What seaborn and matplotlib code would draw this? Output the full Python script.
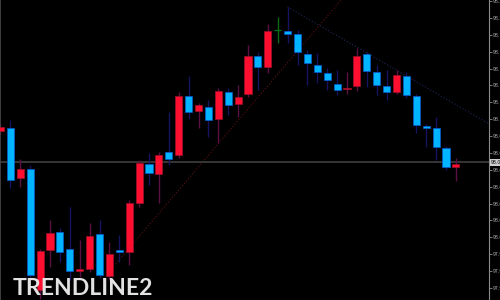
import numpy as np
import pandas as pd
import matplotlib
matplotlib.use("Agg")
import matplotlib.pyplot as plt
import matplotlib.transforms as mtrans
import seaborn as sns

# ---- data (prices) ----
opens = [98.0995, 98.1022, 98.0577, 98.0657, 97.9582, 97.9938, 98.0098, 97.9947, 97.9751, 97.9769,
         98.0080, 97.9707, 97.9938, 97.9920, 98.0355, 98.0702, 98.0613, 98.0809, 98.0782, 98.1306,
         98.1173, 98.1208, 98.1102, 98.1342, 98.1235, 98.1324, 98.1662, 98.1564, 98.1893, 98.1884,
         98.1857, 98.1679, 98.1582, 98.1511, 98.1413, 98.1368, 98.1395, 98.1679, 98.1519, 98.1395,
         98.1342, 98.1484, 98.1306, 98.1040, 98.1022, 98.0844, 98.0675]
highs = [98.1057, 98.1093, 98.0746, 98.0693, 97.9947, 98.0204, 98.0133, 98.0320, 98.0027, 98.0178,
         98.0204, 98.0009, 98.0071, 98.0382, 98.0737, 98.0800, 98.0809, 98.1164, 98.1342, 98.1484,
         98.1244, 98.1271, 98.1377, 98.1377, 98.1404, 98.1759, 98.1697, 98.1946, 98.2008, 98.2097,
         98.1893, 98.1715, 98.1688, 98.1555, 98.1537, 98.1519, 98.1733, 98.1697, 98.1582, 98.1537,
         98.1537, 98.1519, 98.1324, 98.1057, 98.1120, 98.0862, 98.0755]
lows = [98.0969, 98.0489, 98.0497, 97.9689, 97.9502, 97.9787, 97.9831, 97.9671, 97.9698, 97.9742,
        97.9689, 97.9671, 97.9831, 97.9804, 98.0320, 98.0515, 98.0355, 98.0693, 98.0755, 98.1102,
        98.1022, 98.0942, 98.0889, 98.1137, 98.1120, 98.1297, 98.1359, 98.1511, 98.1777, 98.1777,
        98.1582, 98.1404, 98.1422, 98.1359, 98.1315, 98.1324, 98.1351, 98.1386, 98.1315, 98.1271,
        98.1324, 98.1288, 98.0977, 98.0853, 98.0737, 98.0649, 98.0551]
closes = [98.1031, 98.0560, 98.0657, 97.9716, 97.9929, 98.0089, 97.9920, 97.9751, 97.9769, 98.0062,
          97.9716, 97.9902, 97.9920, 98.0355, 98.0711, 98.0622, 98.0782, 98.0746, 98.1306, 98.1164,
          98.1226, 98.1093, 98.1351, 98.1226, 98.1297, 98.1662, 98.1564, 98.1884, 98.1893, 98.1857,
          98.1697, 98.1599, 98.1519, 98.1448, 98.1359, 98.1377, 98.1662, 98.1528, 98.1404, 98.1342,
          98.1493, 98.1315, 98.1049, 98.1022, 98.0853, 98.0675, 98.0702]

up_trend_x = [11, 35]
up_trend_y = [97.9749, 98.2221]
down_trend_x = [29, 49.5]
down_trend_y = [98.2097, 98.1050]
hline_price = 98.0715
hline_label = "98.071"
tick_prices = [round(97.960 + 0.015 * k, 3) for k in range(18)]
title_text = "TRENDLINE2"

df = pd.DataFrame({"open": opens, "high": highs, "low": lows, "close": closes})
df["idx"] = np.arange(len(df))

sns.set_theme(style="dark")
plt.rcParams["font.family"] = ["DejaVu Sans"]

fig = plt.figure(figsize=(5, 3), dpi=100, facecolor="black")
ax = fig.add_axes([0, 0, 489 / 500, 1])
ax.set_facecolor("black")

RED, RED_EDGE, RED_WICK = "#ff0f2f", "#a0102a", "#5a0f45"
BLUE, BLUE_EDGE, BLUE_WICK = "#00b4ff", "#0a5ad0", "#141460"
GREEN = "#0b6b16"

# trend lines (seaborn)
sns.lineplot(x=up_trend_x, y=up_trend_y, ax=ax, color="#651010", lw=0.7,
             linestyle=(0, (1.2, 2.0)), zorder=1)
sns.lineplot(x=down_trend_x, y=down_trend_y, ax=ax, color="#1f2a62", lw=0.7,
             linestyle=(0, (1.2, 2.0)), zorder=1)
ax.axhline(hline_price, color="#444444", lw=1.1, zorder=1)

for _, r in df.iterrows():
    i = r["idx"]
    o, c = r["open"], r["close"]
    if abs(c - o) < 1e-6:
        ax.vlines(i, r["low"], r["high"], color=GREEN, lw=1.0, zorder=2)
        ax.hlines(o, i - 0.35, i + 0.35, color=GREEN, lw=1.0, zorder=3)
        continue
    bull = c > o
    wick = RED_WICK if bull else BLUE_WICK
    face = RED if bull else BLUE
    edge = RED_EDGE if bull else BLUE_EDGE
    ax.vlines(i, r["low"], r["high"], color=wick, lw=1.0, zorder=2)
    ax.bar(i, c - o, bottom=o, width=0.72, color=face, edgecolor=edge, lw=0.5, zorder=3)

ax.set_xlim(-0.05, 49.34)
ax.set_ylim(97.9493, 98.2159)
ax.set_xticks([])
ax.yaxis.tick_right()
ax.set_yticks(tick_prices)
ax.set_yticklabels([f"{p:.3f}" for p in tick_prices])
ax.tick_params(axis="y", colors="#a8a8a8", labelsize=3.3, length=2, width=0.5, pad=1,
               right=True, left=False)
ax.grid(False)
for s in ["top", "bottom"]:
    ax.spines[s].set_visible(False)
ax.spines["right"].set_color("#8c8c8c")
ax.spines["right"].set_linewidth(0.8)
ax.spines["left"].set_color("#4a4a4a")
ax.spines["left"].set_linewidth(1.2)

trans = mtrans.blended_transform_factory(ax.transAxes, ax.transData)
ax.text(1.004, hline_price, hline_label, transform=trans, ha="left", va="center",
        fontsize=3.3, color="black", clip_on=False, zorder=5,
        bbox=dict(boxstyle="square,pad=0.25", fc="#cfcfcf", ec="none"))

fig.text(13 / 500, 5.3 / 300, title_text, ha="left", va="baseline", fontsize=16.6,
         fontweight="bold", family=["Lato", "DejaVu Sans"], color="#e2e2e2")

fig.savefig("out.png", dpi=100, facecolor="black")
